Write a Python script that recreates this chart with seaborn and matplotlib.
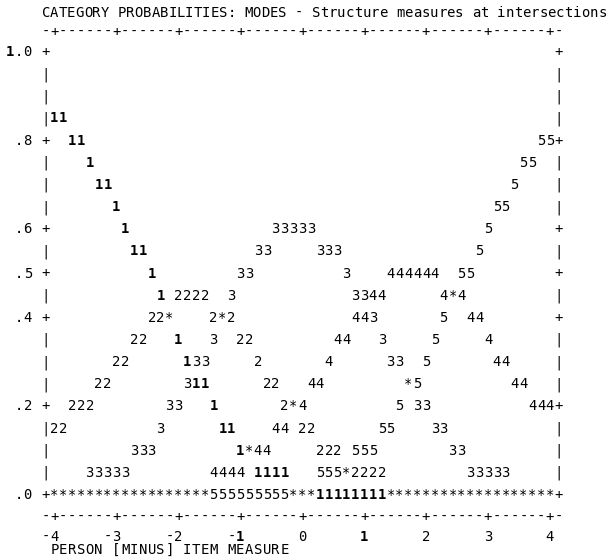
import numpy as np
import pandas as pd
import seaborn as sns
import matplotlib
matplotlib.use("Agg")
from matplotlib import pyplot as plt

title = "CATEGORY PROBABILITIES: MODES - Structure measures at intersections"
x_label = "PERSON [MINUS] ITEM MEASURE"
measure_ticks = [-4, -3, -2, -1, 0, 1, 2, 3, 4]
tick_labels = ["-4", "-3", "-2", "-1", "0", "1", "2", "3", "4"]
prob_ticks = [1.0, 0.8, 0.6, 0.5, 0.4, 0.2, 0.0]
prob_labels = ["1.0", ".8", ".6", ".5", ".4", ".2", ".0"]
categories = ["1", "2", "3", "4", "5"]

# probability level of each category at the 57 plot columns (-4 .. 4)
cat1 = [.85, .85, .80, .80, .75, .70, .70, .65, .60, .55, .55, .50, .45, .40,
        .35, .30, .25, .25, .20, .15, .15, .10, .10, .05, .05, .05, .05, 0,
        0, 0, 0, 0, 0, 0, 0, 0, 0, 0, 0, 0, 0, 0,
        0, 0, 0, 0, 0, 0, 0, 0, 0, 0, 0, 0, 0, 0, 0]
cat2 = [.15, .15, .20, .20, .20, .25, .25, .30, .30, .35, .35, .40, .40, .40,
        .45, .45, .45, .45, .40, .40, .40, .35, .35, .30, .25, .25, .20, .20,
        .15, .15, .10, .10, .10, .05, .05, .05, .05, .05, 0, 0, 0, 0,
        0, 0, 0, 0, 0, 0, 0, 0, 0, 0, 0, 0, 0, 0, 0]
cat3 = [0, 0, 0, 0, .05, .05, .05, .05, .05, .10, .10, .10, .15, .20,
        .20, .25, .30, .30, .35, .40, .45, .50, .50, .55, .55, .60, .60, .60,
        .60, .60, .55, .55, .55, .50, .45, .45, .40, .35, .30, .30, .25, .20,
        .20, .15, .15, .10, .10, .05, .05, .05, .05, .05, 0, 0, 0, 0, 0]
cat4 = [0, 0, 0, 0, 0, 0, 0, 0, 0, 0, 0, 0, 0, 0,
        0, 0, 0, 0, .05, .05, .05, .05, .10, .10, .10, .15, .15, .20,
        .20, .25, .25, .30, .35, .35, .40, .40, .45, .45, .50, .50, .50, .50,
        .50, .50, .45, .45, .45, .40, .40, .35, .30, .30, .25, .25, .20, .20, .20]
cat5 = [0, 0, 0, 0, 0, 0, 0, 0, 0, 0, 0, 0, 0, 0,
        0, 0, 0, 0, 0, 0, 0, 0, 0, 0, 0, 0, 0, 0,
        0, 0, .05, .05, .05, .05, .10, .10, .10, .15, .15, .20, .25, .25,
        .30, .35, .40, .45, .50, .50, .55, .60, .65, .65, .70, .75, .75, .80, .80]

# text grid layout (pixels)
PITCH = 8.85       # character width in the plot
TITLE_PITCH = 8.43
ROW_PX = 22.15     # one .05 step
X_AXIS = 45.5      # left frame column
Y_TOP = 51.0       # centre of the 1.0 row
FS = 10

sns.set_theme(style="white")
plt.rcParams["font.family"] = ["DejaVu Sans Mono"]

fig = plt.figure(figsize=(6.12, 5.6), dpi=100)
ax = fig.add_axes([0, 0, 1, 1])
x0 = X_AXIS + PITCH
ax.set_xlim(-4 - x0 / (7 * PITCH), -4 + (612 - x0) / (7 * PITCH))
ax.set_ylim(1 - (560 - Y_TOP) / ROW_PX * 0.05, 1 + Y_TOP / ROW_PX * 0.05)
ax.axis("off")

base = 5.0 / ROW_PX * 0.05


def col_x(col):
    return -4 + (col - 1) / 7


def px_x(px):
    return -4 + (px - x0) / (7 * PITCH)


def line_y(px):
    return 1 - (px - Y_TOP) / ROW_PX * 0.05


def draw(x, y, ch):
    ax.text(x, y - base, ch, ha="center", va="baseline", fontsize=FS,
            color="black", fontweight="bold" if ch == "1" else "normal")


def put(s, col, y):
    for i, ch in enumerate(s):
        if ch != " ":
            draw(col_x(col + i), y, ch)


# curves: one symbol per column and category, '*' where they share a cell
df = pd.DataFrame({c: v for c, v in zip(categories, [cat1, cat2, cat3, cat4, cat5])})
df["measure"] = np.linspace(-4, 4, len(cat1))
long = df.melt(id_vars="measure", var_name="cat", value_name="prob")
long["prob"] = long["prob"].round(2)
for (m, p), g in long.groupby(["measure", "prob"]):
    draw(m, p, g["cat"].iloc[0] if len(g) == 1 else "*")

# frame
ncol = len(cat1)
for r in range(21):
    p = round(1 - r * 0.05, 2)
    ch = "+" if p in prob_ticks else "|"
    put(ch, 0, p)
    put(ch, ncol + 1, p)
for p, lab in zip(prob_ticks, prob_labels):
    put(lab, -1 - len(lab), p)

tick_cols = [1 + 7 * (t + 4) for t in measure_ticks]
axis_line = "".join("+" if c in tick_cols else "-" for c in range(ncol + 2))
put(axis_line, 0, line_y(31))
put(axis_line, 0, line_y(516))
for t, lab in zip(tick_cols, tick_labels):
    put(lab, t - len(lab) + 1, line_y(536))

for i, ch in enumerate(title):
    if ch != " ":
        draw(px_x(46 + i * TITLE_PITCH), line_y(12), ch)
put(x_label, 1, line_y(549))

fig.savefig("out.png", dpi=100, facecolor="white")
